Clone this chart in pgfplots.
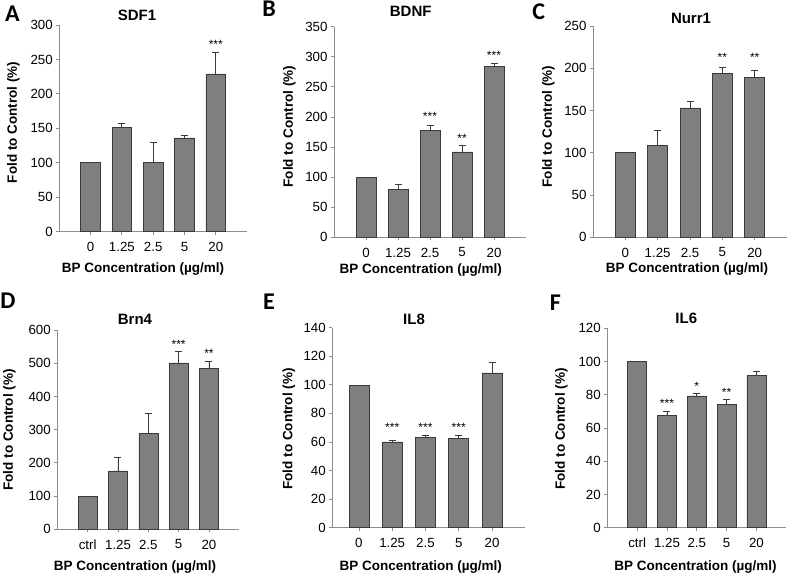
\documentclass[border=0pt]{standalone}
\usepackage{pgfplots}
\pgfplotsset{compat=1.18}
\usepackage{fontspec}
\setmainfont{Liberation Sans}
\newfontfamily\letterfont{Carlito}
\definecolor{barfill}{HTML}{7F7F7F}
\definecolor{baredge}{HTML}{3A3A3A}
\definecolor{axgray}{HTML}{8C8C8C}
\newcommand\tickfont{\fontsize{13.3}{15}\selectfont}
\newcommand\labfont{\fontsize{13.5}{16}\selectfont\bfseries}
\newcommand\titfont{\fontsize{15}{17}\selectfont\bfseries}
\newcommand\letfont{\fontsize{24}{26}\selectfont\letterfont\bfseries}
\newcommand\starfont{\fontsize{12}{14}\selectfont}
\pgfplotsset{
  panel/.style={
    scale only axis, anchor=south west,
    axis x line*=bottom, axis y line*=left,
    axis line style={axgray, line width=0.8pt, -},
    xmin=-1, xmax=5, xtick={0,1,2,3,4}, ymin=0,
    tick align=outside, major tick length=3pt,
    tick style={axgray, line width=0.8pt},
    /pgf/number format/assume math mode=true,
    tick label style={font=\tickfont},
    xticklabel style={yshift=-4pt},
    clip=false,
  },
  bar0/.style={
    ybar, bar shift=0pt, bar width=#1, fill=barfill, draw=baredge, line width=0.6pt,
  },
  bars/.style={
    ybar, bar shift=0pt, bar width=#1, fill=barfill, draw=baredge, line width=0.6pt,
    error bars/.cd, y dir=plus, y explicit,
    error bar style={baredge, line width=0.8pt},
    error mark options={rotate=90, mark size=3.5pt, baredge, line width=0.8pt},
  },
  stars/.style={
    draw=none, mark=none, nodes near coords, point meta=explicit symbolic,
    every node near coord/.append style={font=\starfont, anchor=center, yshift=-3pt, inner sep=0pt},
  },
}
\begin{document}
\begin{tikzpicture}
\path[use as bounding box] (0pt,0pt) rectangle (792pt,577pt);
% A
\begin{axis}[panel, at={(59.3pt,345.3pt)}, width=187.8pt, height=206.7pt,
  ymax=300, ytick={0,50,...,300}, xticklabels={0,1.25,2.5,5,20}]
\addplot[bar0=19.7pt] coordinates {(0,100)};
\addplot[bars=19.7pt] coordinates {(1,151) +- (0,6) (2,101) +- (0,28) (3,136) +- (0,4) (4,229) +- (0,31)};
\addplot[stars] coordinates {(4,276) [***]};
\end{axis}
% B
\begin{axis}[panel, at={(334pt,339.7pt)}, width=192pt, height=210.6pt,
  ymax=350, ytick={0,50,...,350}, xticklabels={0,1.25,2.5,5,20}]
\addplot[bar0=20pt] coordinates {(0,100)};
\addplot[bars=20pt] coordinates {(1,79) +- (0,9) (2,178) +- (0,7.5) (3,142) +- (0,10) (4,284.5) +- (0,4)};
\addplot[stars] coordinates {(2,206) [***] (3,170) [**] (4,308) [***]};
\end{axis}
% C
\begin{axis}[panel, at={(593pt,339.7pt)}, width=194pt, height=211.3pt,
  ymax=250, ytick={0,50,...,250}, xticklabels={0,1.25,2.5,5,20}]
\addplot[bar0=20pt] coordinates {(0,100)};
\addplot[bars=20pt] coordinates {(1,109) +- (0,17) (2,153) +- (0,7.5) (3,194) +- (0,7) (4,189) +- (0,8.5)};
\addplot[stars] coordinates {(3,216) [**] (4,216) [**]};
\end{axis}
% D
\begin{axis}[panel, at={(57.3pt,47.7pt)}, width=182pt, height=199.3pt,
  ymax=600, ytick={0,100,...,600}, xticklabels={ctrl,1.25,2.5,5,20}]
\addplot[bar0=19pt] coordinates {(0,100)};
\addplot[bars=19pt] coordinates {(1,176) +- (0,41) (2,289) +- (0,59) (3,501) +- (0,35) (4,484) +- (0,22)};
\addplot[stars] coordinates {(3,565) [***] (4,540) [**]};
\end{axis}
% E
\begin{axis}[panel, at={(332.3pt,49.3pt)}, width=193pt, height=200pt, xmin=-0.8,
  ymax=140, ytick={0,20,...,140}, xticklabels={0,1.25,2.5,5,20}]
\addplot[bar0=20pt] coordinates {(0,100)};
\addplot[bars=20pt] coordinates {(1,60) +- (0,1.4) (2,63) +- (0,1.4) (3,62.5) +- (0,2.3) (4,108.3) +- (0,7.4)};
\addplot[stars] coordinates {(1,72.3) [***] (2,72.3) [***] (3,72.3) [***]};
\end{axis}
% F
\begin{axis}[panel, at={(607.3pt,49.3pt)}, width=179pt, height=199.4pt,
  ymax=120, ytick={0,20,...,120}, xticklabels={ctrl,1.25,2.5,5,20}]
\addplot[bar0=19pt] coordinates {(0,100)};
\addplot[bars=19pt] coordinates {(1,67.8) +- (0,2.4) (2,79.3) +- (0,1.6) (3,74.3) +- (0,3) (4,91.7) +- (0,2.6)};
\addplot[stars] coordinates {(1,76.9) [***] (2,86.9) [*] (3,83.3) [**]};
\end{axis}
% panel letters
\node[font=\letfont, inner sep=0pt] at (12.3pt,563.7pt) {A};
\node[font=\letfont, inner sep=0pt, anchor=east] at (276pt,567.8pt) {B};
\node[font=\letfont, inner sep=0pt] at (538.8pt,565.3pt) {C};
\node[font=\letfont, inner sep=0pt, anchor=west] at (0.3pt,276.2pt) {D};
\node[font=\letfont, inner sep=0pt, anchor=west] at (263pt,275.5pt) {E};
\node[font=\letfont, inner sep=0pt] at (555.5pt,274.5pt) {F};
% titles
\node[font=\titfont] at (137pt,562pt) {SDF1};
\node[font=\titfont] at (410.7pt,565.3pt) {BDNF};
\node[font=\titfont] at (691pt,559pt) {Nurr1};
\node[font=\titfont] at (135pt,257.7pt) {Brn4};
\node[font=\titfont] at (414pt,257.7pt) {IL8};
\node[font=\titfont] at (686.3pt,258.7pt) {IL6};
% y labels
\node[font=\labfont, rotate=90] at (13.3pt,454.5pt) {Fold to Control (\%)};
\node[font=\labfont, rotate=90] at (289.3pt,450.3pt) {Fold to Control (\%)};
\node[font=\labfont, rotate=90] at (548.5pt,450.3pt) {Fold to Control (\%)};
\node[font=\labfont, rotate=90] at (9.5pt,147pt) {Fold to Control (\%)};
\node[font=\labfont, rotate=90] at (289pt,148pt) {Fold to Control (\%)};
\node[font=\labfont, rotate=90] at (561.5pt,148pt) {Fold to Control (\%)};
% x labels
\node[font=\labfont] at (143pt,308pt) {BP Concentration (µg/ml)};
\node[font=\labfont] at (420.7pt,307.3pt) {BP Concentration (µg/ml)};
\node[font=\labfont] at (687pt,308pt) {BP Concentration (µg/ml)};
\node[font=\labfont] at (135pt,9.5pt) {BP Concentration (µg/ml)};
\node[font=\labfont] at (420.7pt,10pt) {BP Concentration (µg/ml)};
\node[font=\labfont] at (695.5pt,10pt) {BP Concentration (µg/ml)};
\end{tikzpicture}
\end{document}
